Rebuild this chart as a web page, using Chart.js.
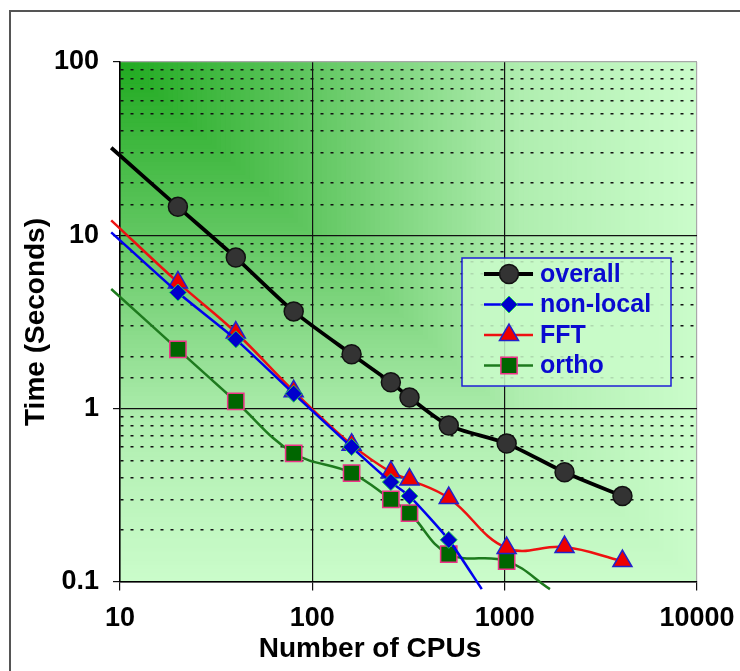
<!DOCTYPE html>
<html>
<head>
<meta charset="utf-8">
<script src="https://cdn.jsdelivr.net/npm/chart.js@4.4.1/dist/chart.umd.min.js"></script>
<style>
  html, body { margin: 0; padding: 0; background: #fff; overflow: hidden; }
  #wrap { position: relative; width: 740px; height: 671px; }
  #frame { position: absolute; left: 9px; top: 10px; width: 800px; height: 800px; border: 2px solid #555; }
  #myChart { position: absolute; left: 0; top: 0; }
</style>
</head>
<body>
<div id="wrap">
  <div id="frame"></div>
  <canvas id="myChart" width="740" height="671"></canvas>
</div>
<script>
// ---- data (first / last points without markers are the line ends) ----
var overallCpus  = [9, 20, 40, 80, 160, 256, 320, 512, 1024, 2048, 4096];
var overallTime  = [32, 14.6, 7.44, 3.64, 2.06, 1.42, 1.16, 0.80, 0.63, 0.43, 0.313];

var nonlocalCpus = [9, 20, 40, 80, 160, 256, 320, 512, 760];
var nonlocalTime = [10.4, 4.68, 2.51, 1.22, 0.60, 0.377, 0.313, 0.175, 0.091];

var fftCpus      = [9, 20, 40, 80, 160, 256, 320, 512, 1024, 2048, 4096];
var fftTime      = [12.2, 5.35, 2.75, 1.26, 0.62, 0.43, 0.39, 0.305, 0.157, 0.159, 0.132];

var orthoCpus    = [9, 20, 40, 80, 160, 256, 320, 512, 1024, 1720];
var orthoTime    = [4.9, 2.2, 1.1, 0.553, 0.425, 0.30, 0.25, 0.145, 0.132, 0.091];

var xTicks = [10, 100, 1000, 10000];
var yTicks = [0.1, 1, 10, 100];

function pts(xs, ys) {
   var out = [];
   for (var i = 0; i < xs.length; i++) out.push({ x: xs[i], y: ys[i] });
   return out;
}
function isMajor(v) {
   var l = Math.log10(v);
   return Math.abs(l - Math.round(l)) < 1e-6;
}
// no marker on the line ends that run off the plot
function markerSize(r) {
   return function (ctx) {
      var p = ctx.raw;
      if (!p || p.x < 10 || p.y < 0.1) return 0;
      return r;
   };
}

var fontFam = "'Liberation Sans', Arial, sans-serif";
var tickFont = { family: fontFam, size: 27, weight: 'bold' };

// green "from corner" fill behind the plot
var bgPlugin = {
   id: 'cornerFill',
   beforeDraw: function (chart) {
      var a = chart.chartArea, ctx = chart.ctx;
      var stops = [[0, [32, 170, 32]], [0.35, [100, 200, 100]], [0.7, [176, 238, 176]], [1, [202, 252, 202]]];
      function col(t) {
         for (var i = 1; i < stops.length; i++) {
            if (t <= stops[i][0]) {
               var s0 = stops[i - 1], s1 = stops[i];
               var f = (t - s0[0]) / (s1[0] - s0[0]);
               var c = [0, 1, 2].map(function (k) { return Math.round(s0[1][k] + (s1[1][k] - s0[1][k]) * f); });
               return 'rgb(' + c.join(',') + ')';
            }
         }
         return 'rgb(202,252,202)';
      }
      var w = a.right - a.left, h = a.bottom - a.top, n = 120;
      ctx.save();
      for (var i = n; i >= 0; i--) {
         var t = i / n;
         ctx.fillStyle = col(t);
         ctx.fillRect(a.left, a.top, Math.max(1, w * t), Math.max(1, h * t));
      }
      ctx.restore();
   }
};

// boxed legend inside the plot: line sample + marker + blue text
var legendPlugin = {
   id: 'boxLegend',
   afterDraw: function (chart) {
      var ctx = chart.ctx;
      var bx = 462, by = 258, bw = 209, bh = 128;
      ctx.save();
      ctx.fillStyle = 'rgba(202,252,202,0.85)';
      ctx.fillRect(bx, by, bw, bh);
      ctx.strokeStyle = '#1f1fd6';
      ctx.lineWidth = 1.5;
      ctx.strokeRect(bx, by, bw, bh);
      chart.data.datasets.forEach(function (ds, i) {
         var y = by + 16 + i * 30.5;
         ctx.strokeStyle = ds.borderColor;
         ctx.lineWidth = ds.borderWidth;
         ctx.beginPath();
         ctx.moveTo(484, y);
         ctx.lineTo(533, y);
         ctx.stroke();
         ctx.fillStyle = ds.pointBackgroundColor;
         ctx.strokeStyle = ds.pointBorderColor;
         ctx.lineWidth = ds.pointBorderWidth;
         Chart.helpers.drawPoint(ctx, {
            pointStyle: ds.pointStyle,
            radius: ds.legendRadius,
            borderWidth: ds.pointBorderWidth,
            rotation: 0
         }, 509, y);
         ctx.fillStyle = '#0a0ad0';
         ctx.font = "bold 25px " + fontFam;
         ctx.textBaseline = 'middle';
         ctx.textAlign = 'left';
         ctx.fillText(ds.label, 540, y + 1);
      });
      ctx.restore();
   }
};

var chart = new Chart(document.getElementById('myChart'), {
   type: 'line',
   data: {
      datasets: [
         {
            label: 'overall',
            data: pts(overallCpus, overallTime),
            borderColor: '#000000',
            borderWidth: 3.8,
            pointStyle: 'circle',
            pointRadius: markerSize(9.5),
            legendRadius: 9.5,
            pointBackgroundColor: '#333333',
            pointBorderColor: '#111111',
            pointBorderWidth: 1.5,
            tension: 0.25
         },
         {
            label: 'non-local',
            data: pts(nonlocalCpus, nonlocalTime),
            borderColor: '#0000ee',
            borderWidth: 2.5,
            pointStyle: 'rectRot',
            pointRadius: markerSize(8.5),
            legendRadius: 8.5,
            pointBackgroundColor: '#0000cc',
            pointBorderColor: '#22cc55',
            pointBorderWidth: 1,
            tension: 0.2
         },
         {
            label: 'FFT',
            data: pts(fftCpus, fftTime),
            borderColor: '#ee1111',
            borderWidth: 2.5,
            pointStyle: 'triangle',
            pointRadius: markerSize(11),
            legendRadius: 11,
            pointBackgroundColor: '#ee0000',
            pointBorderColor: '#2222cc',
            pointBorderWidth: 1.5,
            tension: 0.4
         },
         {
            label: 'ortho',
            data: pts(orthoCpus, orthoTime),
            borderColor: '#1e7a1e',
            borderWidth: 2.5,
            pointStyle: 'rect',
            pointRadius: markerSize(11.5),
            legendRadius: 11.5,
            pointBackgroundColor: '#006600',
            pointBorderColor: '#ee3388',
            pointBorderWidth: 1.5,
            tension: 0.4
         }
      ]
   },
   options: {
      responsive: false,
      animation: false,
      clip: false,
      layout: { padding: { left: 0, top: 62, right: 0, bottom: 0 } },
      plugins: {
         legend: { display: false },
         tooltip: { enabled: false },
         // x axis caption is centred on the whole figure, as in the original
         title: {
            display: true,
            position: 'bottom',
            text: 'Number of CPUs',
            color: '#000',
            font: { family: fontFam, size: 28, weight: 'bold', lineHeight: 1 },
            padding: { top: 0, bottom: 8 }
         }
      },
      scales: {
         x: {
            type: 'logarithmic',
            min: 10,
            max: 10000,
            afterFit: function (s) { s.height = 53; },
            ticks: {
               autoSkip: false,
               maxRotation: 0,
               padding: 4,
               color: '#000',
               font: tickFont,
               callback: function (v) { return xTicks.indexOf(v) >= 0 ? String(v) : ''; }
            },
            grid: {
               lineWidth: 1.2,
               tickLength: 16,
               // only the first 8px of the tick line is drawn, the rest is the label gap
               tickBorderDash: [8, 60],
               color: function (c) {
                  if (!c.tick || !isMajor(c.tick.value)) return 'rgba(0,0,0,0)';
                  return c.tick.value >= 10000 ? '#a8a8a8' : '#111';
               },
               tickColor: function (c) {
                  return c.tick && isMajor(c.tick.value) ? '#111' : 'rgba(0,0,0,0)';
               }
            },
            border: { color: '#000', width: 1.5 }
         },
         y: {
            type: 'logarithmic',
            min: 0.1,
            max: 100,
            afterFit: function (s) { s.width = 120; },
            ticks: {
               autoSkip: false,
               padding: 14,
               color: '#000',
               font: tickFont,
               callback: function (v) { return yTicks.indexOf(v) >= 0 ? String(v) : ''; }
            },
            grid: {
               lineWidth: function (c) { return c.tick && isMajor(c.tick.value) ? 1.2 : 1.5; },
               tickLength: 7,
               color: function (c) {
                  if (c.tick && c.tick.value >= 100) return '#a8a8a8';
                  return '#111';
               },
               tickColor: function (c) {
                  return c.tick && isMajor(c.tick.value) ? '#111' : 'rgba(0,0,0,0)';
               }
            },
            border: {
               color: '#000',
               width: 1.5,
               dash: function (c) { return c.tick && !isMajor(c.tick.value) ? [3, 7] : []; }
            },
            title: {
               display: true,
               text: 'Time (Seconds)',
               color: '#000',
               font: { family: fontFam, size: 28, weight: 'bold', lineHeight: 1 },
               padding: { top: 22, bottom: 0 }
            }
         },
         // empty right-hand spacer so the plot ends where the original does
         yRight: {
            type: 'linear',
            position: 'right',
            display: true,
            afterFit: function (s) { s.width = 43; },
            ticks: { display: false },
            grid: { display: false, drawTicks: false },
            border: { display: false }
         }
      }
   },
   plugins: [bgPlugin, legendPlugin]
});
</script>
</body>
</html>
